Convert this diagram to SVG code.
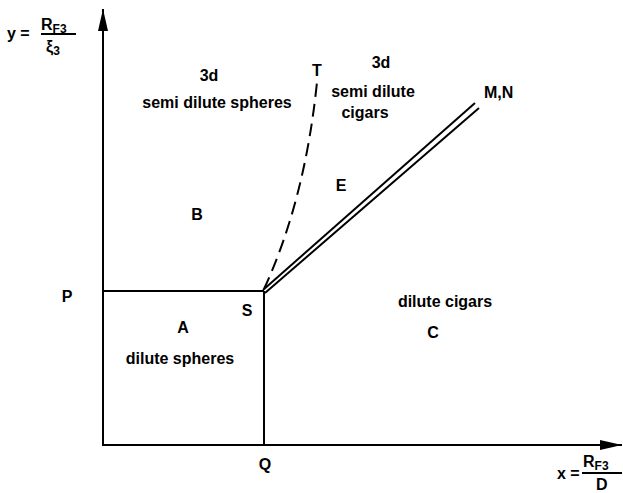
<svg xmlns="http://www.w3.org/2000/svg" width="623" height="493" viewBox="0 0 623 493">
<style>
text{font-family:"Liberation Sans","DejaVu Sans",sans-serif;font-weight:bold;font-size:16px;fill:#000}
.c{text-anchor:middle}
.ln{stroke:#000;stroke-width:2;fill:none}
.sub{font-size:12px}
</style>
<defs>
<marker id="ahl" viewBox="0 0 22 10" refX="22" refY="5" markerWidth="22" markerHeight="10" markerUnits="userSpaceOnUse" orient="auto">
<path d="M0,0 L22,5 L0,10 z" fill="#000"/>
</marker>
</defs>
<g id="connectors">
<line id="y-axis" class="ln" x1="103" y1="446" x2="103" y2="9" marker-end="url(#ahl)"/>
<line id="x-axis" class="ln" x1="102" y1="445" x2="622" y2="445" marker-end="url(#ahl)"/>
<line id="P-line" class="ln" x1="103" y1="291" x2="264" y2="291" stroke-width="1.4"/>
<line id="Q-line" class="ln" x1="264" y1="291" x2="264" y2="445" stroke-width="1.4"/>
<path id="ST-dashed" class="ln" d="M264,289 Q305,200 317,82" stroke-width="2.4" stroke-dasharray="13,7"/>
<line id="SMN-1" class="ln" x1="263" y1="290" x2="475" y2="103" stroke-width="2.6"/>
<line id="SMN-2" class="ln" x1="265" y1="293" x2="479" y2="108" stroke-width="2.6"/>
</g>
<g id="y-label">
<text x="7" y="39">y =</text>
<text x="41" y="30">R<tspan class="sub" dy="3">F3</tspan></text>
<line class="ln" x1="41" y1="34" x2="76" y2="34" stroke-width="1"/>
<text x="46" y="52">ξ<tspan class="sub" dy="3">3</tspan></text>
</g>
<g id="x-label">
<text x="557" y="479">x =</text>
<text x="583" y="467">R<tspan class="sub" dy="3">F3</tspan></text>
<line class="ln" x1="582" y1="473" x2="622" y2="473" stroke-width="1"/>
<text x="596" y="490">D</text>
</g>
<g id="region-B">
<text class="c" x="209" y="81">3d</text>
<text class="c" x="217" y="108">semi dilute spheres</text>
<text class="c" x="197" y="220">B</text>
</g>
<g id="region-E">
<text class="c" x="381" y="68">3d</text>
<text class="c" x="373" y="97">semi dilute</text>
<text class="c" x="365" y="118">cigars</text>
<text class="c" x="341" y="191">E</text>
</g>
<g id="point-T"><text class="c" x="317" y="76">T</text></g>
<g id="point-MN"><text x="484" y="98">M,N</text></g>
<g id="point-P"><text class="c" x="67" y="302">P</text></g>
<g id="point-S"><text class="c" x="247" y="316">S</text></g>
<g id="point-Q"><text class="c" x="265" y="470">Q</text></g>
<g id="region-A">
<text class="c" x="183" y="333">A</text>
<text class="c" x="180" y="364">dilute spheres</text>
</g>
<g id="region-C">
<text class="c" x="445" y="307">dilute cigars</text>
<text class="c" x="433" y="338">C</text>
</g>
</svg>
